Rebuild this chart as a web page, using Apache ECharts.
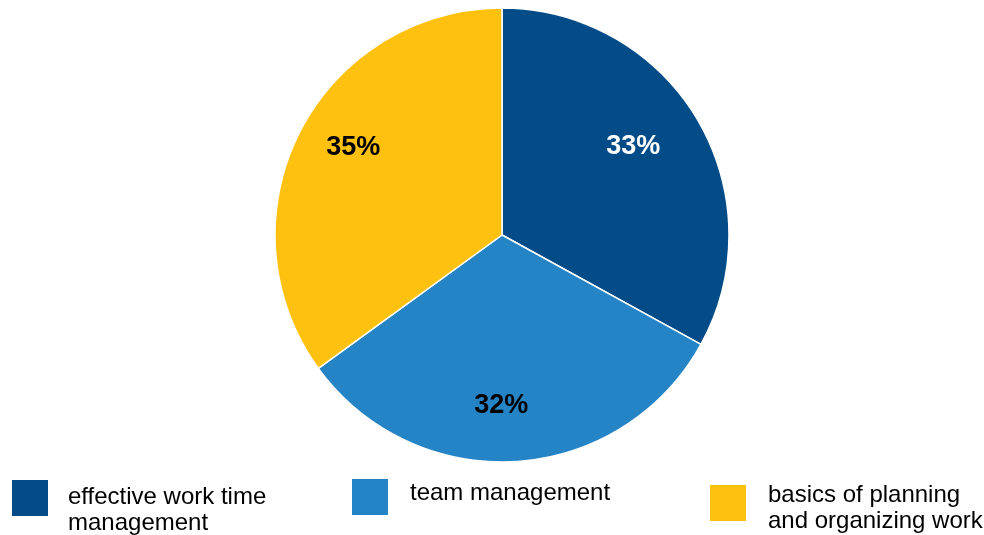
<!DOCTYPE html>
<html>
<head>
<meta charset="utf-8">
<script src="https://cdn.jsdelivr.net/npm/echarts@6/dist/echarts.min.js"></script>
<style>
  html, body { margin: 0; padding: 0; background: #ffffff; }
  #chart { width: 984px; height: 535px; }
</style>
</head>
<body>
<div id="chart"></div>
<script>
// Share of training topics
const categories = ['effective work time management', 'team management', 'basics of planning and organizing work'];
const values = [33, 32, 35];
const legendLines = [['effective work time', 'management'], ['team management'], ['basics of planning', 'and organizing work']];
const colors = ['#034C88', '#2584C6', '#FEC10F'];
const labelColors = ['#ffffff', '#000000', '#000000'];

const labelOffsets = [[31, -29], [-8, 54], [-45, -35]];

const chart = echarts.init(document.getElementById('chart'));

// A spacer line before or after the text nudges it relative to the square.
function legendFormatter(before, after) {
  return name => {
    const lines = legendLines[categories.indexOf(name)].map(t => '{t|' + t + '}');
    if (before) lines.unshift('{' + before + '| }');
    if (after) lines.push('{' + after + '| }');
    return lines.join('\n');
  };
}

const legendBase = {
  orient: 'horizontal',
  padding: 0,
  itemWidth: 38,
  itemHeight: 38,
  icon: 'rect',
  selectedMode: false
};

const legendText = (padLeft) => ({
  fontFamily: 'Liberation Sans, Arial, sans-serif',
  fontSize: 24,
  color: '#000000',
  padding: [0, 0, 0, padLeft],
  rich: {
    t: { fontSize: 24, lineHeight: 26, color: '#000000', fontFamily: 'Liberation Sans, Arial, sans-serif' },
    s25: { fontSize: 4, lineHeight: 25 },
    s10: { fontSize: 4, lineHeight: 10 },
    s6: { fontSize: 4, lineHeight: 7 }
  }
});

chart.setOption({
  animation: false,
  color: colors,
  legend: [
    Object.assign({}, legendBase, { data: [categories[0]], left: 10, top: 470, formatter: legendFormatter('s25', null), textStyle: legendText(14) }),
    Object.assign({}, legendBase, { data: [categories[1]], left: 350, top: 477, formatter: legendFormatter(null, 's6'), textStyle: legendText(16) }),
    Object.assign({}, legendBase, { data: [categories[2]], left: 708, top: 475, formatter: legendFormatter('s10', null), textStyle: legendText(16) })
  ],
  series: [{
    type: 'pie',
    center: [502, 235],
    radius: [0, 227],
    startAngle: 90,
    clockwise: true,
    silent: true,
    itemStyle: { borderColor: '#ffffff', borderWidth: 1.5 },
    label: {
      show: true,
      position: 'inside',
      formatter: '{c}%',
      fontFamily: 'Liberation Sans, Arial, sans-serif',
      fontWeight: 'bold',
      fontSize: 27
    },
    labelLine: { show: false },
    data: categories.map((name, i) => ({
      name: name,
      value: values[i],
      label: { color: labelColors[i], offset: labelOffsets[i] }
    }))
  }]
});
</script>
</body>
</html>
